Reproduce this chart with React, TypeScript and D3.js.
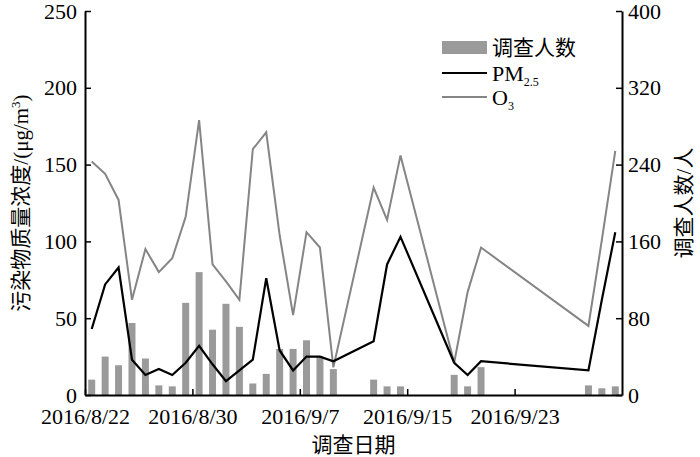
import { useEffect, useRef } from "react";
import * as d3 from "d3";

// survey dates (only days with data)
const dates = [
  "2016-08-22", "2016-08-23", "2016-08-24", "2016-08-25", "2016-08-26", "2016-08-27", "2016-08-28",
  "2016-08-29", "2016-08-30", "2016-08-31", "2016-09-01", "2016-09-02", "2016-09-03", "2016-09-04",
  "2016-09-05", "2016-09-06", "2016-09-07", "2016-09-08", "2016-09-09", "2016-09-12", "2016-09-13",
  "2016-09-14", "2016-09-18", "2016-09-19", "2016-09-20", "2016-09-28", "2016-09-29", "2016-09-30",
];
const surveyCount = [16, 40, 31, 75, 38, 10, 9, 96, 128, 68, 95, 71, 12, 22, 48, 48, 57, 40, 27, 16, 9, 9, 21, 9, 29, 10, 7, 9];
const pm25 = [43, 72, 83, 23, 13, 17, 13, 21, 32, 20, 9, 16, 23, 76, 29, 16, 25, 25, 22, 35, 85, 103, 21, 13, 22, 16, 62, 106];
const o3 = [152, 144, 127, 62, 95, 80, 89, 116, 179, 85, 74, 62, 160, 171, 104, 52, 106, 96, 18, 135, 114, 156, 21, 67, 96, 45, 101, 159];

const xTicks = ["2016-08-22", "2016-08-30", "2016-09-07", "2016-09-15", "2016-09-23"];
const leftTicks = [0, 50, 100, 150, 200, 250];
const rightTicks = [0, 80, 160, 240, 320, 400];

const W = 700;
const H = 457;
const FONT = "Liberation Serif, Times New Roman, Noto Sans CJK SC, serif";

export default function App() {
  const svgRef = useRef<SVGSVGElement | null>(null);

  useEffect(() => {
    const margin = { top: 11, right: 78, bottom: 62, left: 85 };
    const innerW = W - margin.left - margin.right;
    const innerH = H - margin.top - margin.bottom;

    const svg = d3.select(svgRef.current).attr("width", W).attr("height", H);
    svg.selectAll("*").remove();
    svg.attr("font-family", FONT);

    const g = svg.append("g").attr("transform", `translate(${margin.left},${margin.top})`);

    const parse = d3.utcParse("%Y-%m-%d");
    const data = dates.map((d, i) => ({
      date: parse(d) as Date,
      count: surveyCount[i],
      pm: pm25[i],
      o3: o3[i],
    }));

    const x = d3
      .scaleUtc()
      .domain([parse("2016-08-22") as Date, parse("2016-10-01") as Date])
      .range([0, innerW]);
    const mid = (d: Date) => x(d3.utcHour.offset(d, 12));
    const dayW = x(parse("2016-08-23") as Date) - x(parse("2016-08-22") as Date);

    const yL = d3.scaleLinear().domain([0, 250]).range([innerH, 0]);
    const yR = d3.scaleLinear().domain([0, 400]).range([innerH, 0]);

    // bars
    const barW = dayW * 0.52;
    g.selectAll(".bar")
      .data(data)
      .enter()
      .append("rect")
      .attr("x", (d) => mid(d.date) - barW / 2)
      .attr("y", (d) => yR(d.count))
      .attr("width", barW)
      .attr("height", (d) => innerH - yR(d.count))
      .attr("fill", "#9a9a9a");

    const line = (key: "pm" | "o3") =>
      d3
        .line<(typeof data)[number]>()
        .x((d) => mid(d.date))
        .y((d) => yL(d[key]));

    g.append("path")
      .datum(data)
      .attr("d", line("o3"))
      .attr("fill", "none")
      .attr("stroke", "#858585")
      .attr("stroke-width", 2);

    g.append("path")
      .datum(data)
      .attr("d", line("pm"))
      .attr("fill", "none")
      .attr("stroke", "#000")
      .attr("stroke-width", 2.2);

    const styleAxis = (sel: d3.Selection<SVGGElement, unknown, null, undefined>) => {
      sel.attr("font-family", FONT).attr("font-size", 22);
      sel.select(".domain").attr("stroke", "#000").attr("stroke-width", 2);
      sel.selectAll(".tick line").attr("stroke", "#000").attr("stroke-width", 1.5);
      sel.selectAll("text").attr("fill", "#000");
    };

    // left axis
    g.append("g")
      .call(d3.axisLeft(yL).tickValues(leftTicks).tickSizeInner(-6).tickSizeOuter(0).tickPadding(8))
      .call(styleAxis);

    // right axis
    g.append("g")
      .attr("transform", `translate(${innerW},0)`)
      .call(d3.axisRight(yR).tickValues(rightTicks).tickSizeInner(-6).tickSizeOuter(0).tickPadding(6))
      .call(styleAxis);

    // bottom axis
    const fmt = d3.utcFormat("%Y/%-m/%-d");
    g.append("g")
      .attr("transform", `translate(0,${innerH})`)
      .call(
        d3
          .axisBottom(x)
          .tickValues(xTicks.map((t) => parse(t) as Date))
          .tickFormat((d) => fmt(d as Date))
          .tickSizeInner(-6)
          .tickSizeOuter(0)
          .tickPadding(13)
      )
      .call(styleAxis);

    // axis titles
    const yLab = svg
      .append("text")
      .attr("transform", `translate(28,${margin.top + innerH / 2}) rotate(-90)`)
      .attr("text-anchor", "middle")
      .attr("font-size", 21)
      .attr("fill", "#000");
    yLab.append("tspan").text("污染物质量浓度/(μg/m");
    yLab.append("tspan").text("3").attr("font-size", 13).attr("dy", -8);
    yLab.append("tspan").text(")").attr("dy", 8);

    svg
      .append("text")
      .attr("transform", `translate(691,${margin.top + innerH / 2}) rotate(-90)`)
      .attr("text-anchor", "middle")
      .attr("font-size", 21)
      .attr("fill", "#000")
      .text("调查人数/人");

    svg
      .append("text")
      .attr("x", margin.left + innerW / 2)
      .attr("y", 452)
      .attr("text-anchor", "middle")
      .attr("font-size", 21)
      .attr("fill", "#000")
      .text("调查日期");

    // legend
    const lg = svg.append("g").attr("transform", "translate(442,0)");
    lg.append("rect").attr("x", 0).attr("y", 41).attr("width", 45).attr("height", 13).attr("fill", "#9a9a9a");
    lg.append("text").attr("x", 50).attr("y", 55).attr("font-size", 21).attr("fill", "#000").text("调查人数");

    lg.append("line").attr("x1", 0).attr("x2", 45).attr("y1", 73).attr("y2", 73).attr("stroke", "#000").attr("stroke-width", 2.2);
    const pmT = lg.append("text").attr("x", 50).attr("y", 81).attr("font-size", 22).attr("fill", "#000");
    pmT.append("tspan").text("PM");
    pmT.append("tspan").text("2.5").attr("font-size", 12).attr("dy", 5);

    lg.append("line").attr("x1", 0).attr("x2", 45).attr("y1", 97).attr("y2", 97).attr("stroke", "#858585").attr("stroke-width", 2);
    const o3T = lg.append("text").attr("x", 50).attr("y", 105).attr("font-size", 22).attr("fill", "#000");
    o3T.append("tspan").text("O");
    o3T.append("tspan").text("3").attr("font-size", 12).attr("dy", 5);
  }, []);

  return (
    <div style={{ position: "absolute", left: 0, top: 0, width: W, height: H, background: "#fff" }}>
      <svg ref={svgRef} style={{ display: "block" }} />
    </div>
  );
}
